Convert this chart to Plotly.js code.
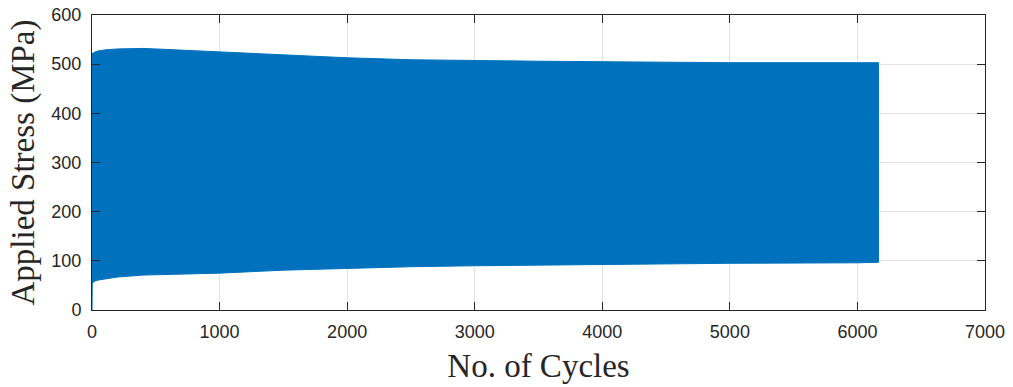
<!DOCTYPE html>
<html>
<head>
<meta charset="utf-8">
<script src="https://cdn.plot.ly/plotly-3.0.1.min.js"></script>
<style>
  html, body { margin: 0; padding: 0; background: #ffffff; }
  #chart { width: 1013px; height: 387px; }
</style>
</head>
<body>
<div id="chart"></div>
<script>
// Peak (maximum) stress of each loading cycle, MPa
const upperCycles = [0, 25, 50, 100, 200, 300, 400, 500, 750, 1000, 1250, 1500, 1750, 2000, 2500, 3000, 3500, 4000, 5000, 6000, 6165];
const upperStress = [521, 525, 527, 529, 531, 532, 532, 531, 528, 525, 522, 519, 516, 513, 509, 507, 506, 505, 503, 503, 503];

// Valley (minimum) stress of each loading cycle, MPa
const lowerCycles = [0, 2, 10, 25, 50, 100, 200, 400, 600, 1000, 1500, 2000, 2500, 3000, 4000, 5000, 6000, 6165];
const lowerStress = [0, 55, 57, 59, 61, 64, 67, 71, 73, 75, 81, 85, 88, 90, 93, 95, 96, 97];

// Axis ticks
const xTicks = [0, 1000, 2000, 3000, 4000, 5000, 6000, 7000];
const yTicks = [0, 100, 200, 300, 400, 500, 600];

// The oscillating stress history fills the band between its envelopes
const bandX = upperCycles.concat(lowerCycles.slice().reverse());
const bandY = upperStress.concat(lowerStress.slice().reverse());

const lineColor = '#0072BD';

const trace = {
  x: bandX,
  y: bandY,
  type: 'scatter',
  mode: 'lines',
  fill: 'toself',
  fillcolor: lineColor,
  line: { color: lineColor, width: 1 },
  hoverinfo: 'skip',
  showlegend: false
};

const axisCommon = {
  showline: true,
  linecolor: '#262626',
  linewidth: 1,
  mirror: 'ticks',
  ticks: 'inside',
  ticklen: 8,
  tickwidth: 1,
  tickcolor: '#262626',
  showgrid: true,
  gridcolor: '#e3e3e3',
  gridwidth: 1,
  zeroline: false,
  tickfont: { family: 'Liberation Sans, Arial, sans-serif', size: 18, color: '#262626' }
};

const titleFont = { family: 'Liberation Serif, Times New Roman, serif', size: 33, color: '#262626' };

const layout = {
  width: 1013,
  height: 387,
  margin: { l: 92, r: 28, t: 15, b: 77 },
  paper_bgcolor: '#ffffff',
  plot_bgcolor: '#ffffff',
  xaxis: Object.assign({}, axisCommon, {
    range: [0, 7000],
    tickvals: xTicks,
    ticktext: xTicks.map(String),
    ticklabelstandoff: 5,
    title: { text: 'No. of Cycles', font: titleFont, standoff: 13 }
  }),
  yaxis: Object.assign({}, axisCommon, {
    range: [0, 600],
    tickvals: yTicks,
    ticktext: yTicks.map(String),
    ticklabelstandoff: 6,
    title: { text: 'Applied Stress (MPa)', font: titleFont, standoff: 6 }
  })
};

Plotly.newPlot('chart', [trace], layout, { displayModeBar: false, staticPlot: true });
</script>
</body>
</html>
